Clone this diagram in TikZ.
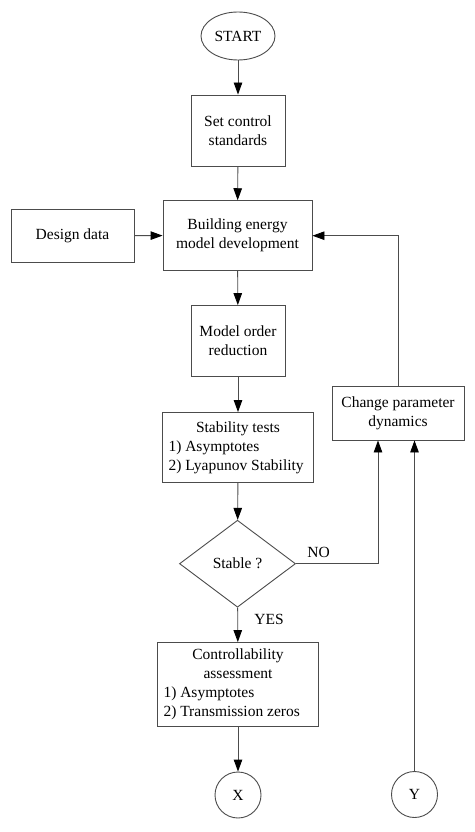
\documentclass[tikz,border=0pt]{standalone}
\usepackage{fontspec}
\setmainfont{Liberation Serif}
\newfontfamily\diagfont{Liberation Serif}
\usetikzlibrary{arrows.meta,shapes.geometric}
\tikzset{
  ln/.style={draw=black!70, line width=0.9pt},
  arr/.style={ln, -{Triangle[length=12pt,width=8.5pt,color=black]}},
  box/.style={ln, rectangle, inner sep=0pt, align=center, font=\diagfont\fontsize{15.5}{19}\selectfont},
  lbl/.style={inner sep=0pt, font=\diagfont\fontsize{15.5}{19}\selectfont}
}
\begin{document}
\begin{tikzpicture}[x=1pt,y=-1pt]
\useasboundingbox[fill=white] (0,0) rectangle (474,832);
\node[box, ellipse, minimum width=74pt, minimum height=48pt] (start) at (238,36) {START};
\node[box, minimum width=94pt, minimum height=71pt] (set) at (238,130.5) {Set control\\standards};
\node[box, minimum width=123pt, minimum height=53pt] (design) at (72.5,235.5) {Design data};
\node[box, minimum width=149pt, minimum height=70pt] (build) at (237.5,235.7) {Building energy\\model development};
\node[box, minimum width=94pt, minimum height=71pt] (model) at (238,341) {Model order\\reduction};
\node[box, minimum width=151pt, minimum height=70pt] (stab) at (238,447.5)
  {\begin{minipage}{139pt}\centering Stability tests\par\raggedright 1) Asymptotes\\2) Lyapunov Stability\end{minipage}};
\node[box, minimum width=132pt, minimum height=54pt] (change) at (398,413) {Change parameter\\dynamics};
\node[box, diamond, aspect=1.333, minimum width=116pt, minimum height=87pt] (dec) at (237.5,563.7) {Stable ?};
\node[box, minimum width=161pt, minimum height=84pt] (ctrl) at (238,684.5)
  {\begin{minipage}{149pt}\centering Controllability\\assessment\par\raggedright 1) Asymptotes\\2) Transmission zeros\end{minipage}};
\node[box, circle, minimum size=46pt] (X) at (238,795) {X};
\node[box, circle, minimum size=46pt] (Y) at (414.5,794.5) {Y};
\node[lbl] (no) at (318.5,552.5) {NO};
\node[lbl] (yes) at (269,619.5) {YES};

\draw[arr] (start) -- (set);
\draw[arr] (set) -- (build);
\draw[arr] (design) -- (build);
\draw[arr] (build) -- (model);
\draw[arr] (model) -- (stab);
\draw[arr] (stab) -- (dec);
\draw[arr] (dec) -- (ctrl);
\draw[arr] (ctrl) -- (X);
\draw[arr] (dec.east) -| ([xshift=-20pt]change.south);
\draw[arr] (Y.north) -- (Y.north |- change.south);
\draw[arr] (change.north) |- (build.east);
\end{tikzpicture}
\end{document}
